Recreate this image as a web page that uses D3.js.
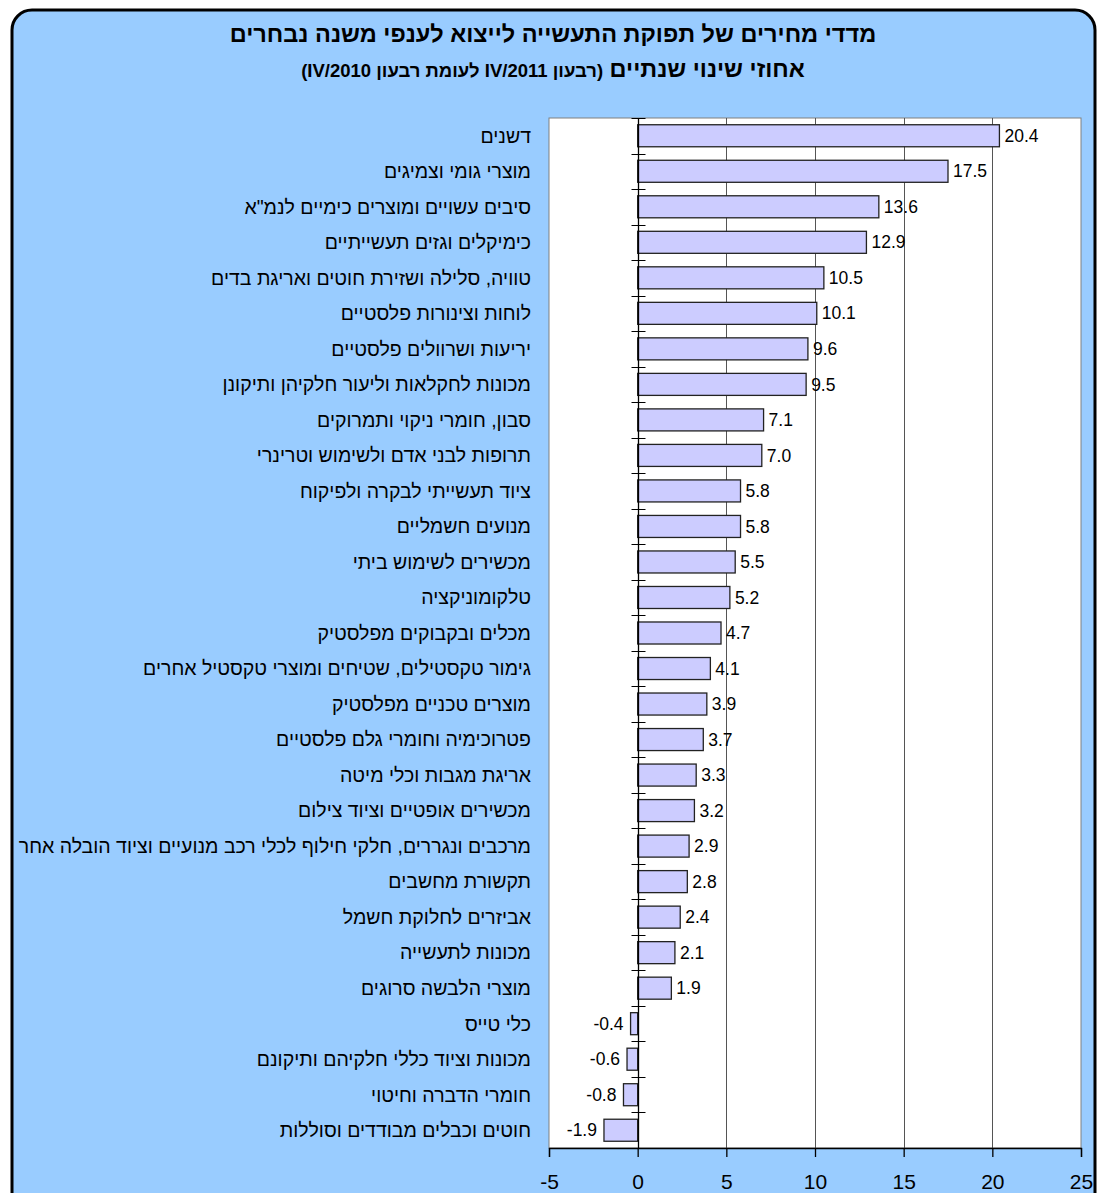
<!DOCTYPE html>
<html>
<head>
<meta charset="utf-8">
<script src="https://cdn.jsdelivr.net/npm/d3@7"></script>
<style>
  body { margin: 0; background: #fff; }
  text { font-family: "Liberation Sans", Arial, sans-serif; }
</style>
</head>
<body>
<div id="chart"></div>
<script>
const width = 1107
const height = 1193

// data
const categories = [
  'דשנים',
  'מוצרי גומי וצמיגים',
  'סיבים עשויים ומוצרים כימיים לנמ"א',
  'כימיקלים וגזים תעשייתיים',
  'טוויה, סלילה ושזירת חוטים ואריגת בדים',
  'לוחות וצינורות פלסטיים',
  'יריעות ושרוולים פלסטיים',
  'מכונות לחקלאות וליעור חלקיהן ותיקונן',
  'סבון, חומרי ניקוי ותמרוקים',
  'תרופות לבני אדם ולשימוש וטרינרי',
  'ציוד תעשייתי לבקרה ולפיקוח',
  'מנועים חשמליים',
  'מכשירים לשימוש ביתי',
  'טלקומוניקציה',
  'מכלים ובקבוקים מפלסטיק',
  'גימור טקסטילים, שטיחים ומוצרי טקסטיל אחרים',
  'מוצרים טכניים מפלסטיק',
  'פטרוכימיה וחומרי גלם פלסטיים',
  'אריגת מגבות וכלי מיטה',
  'מכשירים אופטיים וציוד צילום',
  'מרכבים ונגררים, חלקי חילוף לכלי רכב מנועיים וציוד הובלה אחר',
  'תקשורת מחשבים',
  'אביזרים לחלוקת חשמל',
  'מכונות לתעשייה',
  'מוצרי הלבשה סרוגים',
  'כלי טייס',
  'מכונות וציוד כללי חלקיהם ותיקונם',
  'חומרי הדברה וחיטוי',
  'חוטים וכבלים מבודדים וסוללות'
]
const values = [20.4, 17.5, 13.6, 12.9, 10.5, 10.1, 9.6, 9.5, 7.1, 7.0, 5.8, 5.8, 5.5, 5.2, 4.7,
  4.1, 3.9, 3.7, 3.3, 3.2, 2.9, 2.8, 2.4, 2.1, 1.9, -0.4, -0.6, -0.8, -1.9]
const xTicks = [-5, 0, 5, 10, 15, 20, 25]
const gridTicks = [5, 10, 15, 20]
const title = 'מדדי מחירים של תפוקת התעשייה לייצוא לענפי משנה נבחרים'
const subtitleMain = 'אחוזי שינוי שנתיים'
const subtitleNote = '(רבעון IV/2011 לעומת רבעון IV/2010)'

const data = categories.map((c, i) => ({ name: c, value: values[i] }))

const plot = { left: 549, right: 1081, top: 118, bottom: 1148 }

const svg = d3.select('#chart').append('svg')
  .attr('width', width)
  .attr('height', height)

svg.append('clipPath').attr('id', 'panelClip')
  .append('rect')
  .attr('x', 13).attr('y', 11)
  .attr('width', 1081).attr('height', 1200)
  .attr('rx', 20)

// panel background
svg.append('rect')
  .attr('x', 12).attr('y', 10)
  .attr('width', 1083).attr('height', 1205)
  .attr('rx', 20)
  .attr('fill', '#99ccff')
  .attr('stroke', '#000')
  .attr('stroke-width', 3)

// title
svg.append('text')
  .attr('x', 553).attr('y', 42)
  .attr('text-anchor', 'middle')
  .attr('direction', 'rtl')
  .attr('font-size', 23.5)
  .attr('font-weight', 'bold')
  .text(title)

const sub = svg.append('text')
  .attr('x', 553).attr('y', 77)
  .attr('text-anchor', 'middle')
  .attr('direction', 'rtl')
  .attr('font-weight', 'bold')
sub.append('tspan').attr('font-size', 23.5).text(subtitleMain + ' ')
sub.append('tspan').attr('font-size', 18.5).text(subtitleNote)

// scales
const xScale = d3.scaleLinear().domain([-5, 25]).range([plot.left, plot.right])
const yScale = d3.scaleBand().domain(categories).range([plot.top, plot.bottom])
  .paddingInner(0.38).paddingOuter(0.19)

// plot area
svg.append('rect')
  .attr('x', plot.left).attr('y', plot.top)
  .attr('width', plot.right - plot.left).attr('height', plot.bottom - plot.top)
  .attr('fill', '#fff')
  .attr('stroke', '#808080')
  .attr('stroke-width', 1)

// gridlines
svg.append('g').selectAll('line')
  .data(gridTicks)
  .join('line')
  .attr('x1', d => Math.round(xScale(d)) + 0.5)
  .attr('x2', d => Math.round(xScale(d)) + 0.5)
  .attr('y1', plot.top)
  .attr('y2', plot.bottom)
  .attr('stroke', '#555')
  .attr('stroke-width', 1)

// bars
svg.append('g').selectAll('rect')
  .data(data)
  .join('rect')
  .attr('x', d => xScale(Math.min(0, d.value)))
  .attr('y', d => yScale(d.name))
  .attr('width', d => Math.abs(xScale(d.value) - xScale(0)))
  .attr('height', yScale.bandwidth())
  .attr('fill', '#ccccff')
  .attr('stroke', '#222')
  .attr('stroke-width', 1.3)

// value labels
svg.append('g').selectAll('text')
  .data(data)
  .join('text')
  .attr('x', d => d.value >= 0 ? xScale(d.value) + 5 : xScale(d.value) - 7)
  .attr('y', d => yScale(d.name) + yScale.bandwidth() / 2)
  .attr('dy', '0.35em')
  .attr('text-anchor', d => d.value >= 0 ? 'start' : 'end')
  .attr('font-size', 17.5)
  .attr('fill', '#000')
  .text(d => d.value.toFixed(1))

// vertical axis at zero with cross ticks at band boundaries
const x0 = Math.round(xScale(0)) + 0.5
svg.append('line')
  .attr('x1', x0).attr('x2', x0)
  .attr('y1', plot.top).attr('y2', plot.bottom)
  .attr('stroke', '#000').attr('stroke-width', 1.3)

const boundaries = d3.range(categories.length + 1).map(i => plot.top + i * yScale.step())
svg.append('g').selectAll('line')
  .data(boundaries)
  .join('line')
  .attr('x1', x0 - 7).attr('x2', x0 + 7)
  .attr('y1', d => Math.round(d) + 0.5)
  .attr('y2', d => Math.round(d) + 0.5)
  .attr('stroke', '#000').attr('stroke-width', 1)

// category labels
svg.append('g').attr('clip-path', 'url(#panelClip)')
  .selectAll('text')
  .data(data)
  .join('text')
  .attr('x', 531)
  .attr('y', d => yScale(d.name) + yScale.bandwidth() / 2)
  .attr('dy', '0.35em')
  .attr('text-anchor', 'start')
  .attr('direction', 'rtl')
  .attr('font-size', 19.5)
  .text(d => d.name)

// bottom axis
const xAxis = svg.append('g')
  .attr('transform', `translate(0,${plot.bottom})`)
  .call(d3.axisBottom(xScale).tickValues(xTicks).tickSize(9).tickPadding(17).tickFormat(d3.format('d')))
xAxis.select('.domain').attr('stroke', '#000').attr('stroke-width', 1.3)
xAxis.selectAll('.tick line').attr('stroke', '#000').attr('stroke-width', 1.3)
xAxis.selectAll('.tick text')
  .attr('font-size', 21)
  .attr('font-family', '"Liberation Sans", Arial, sans-serif')
  .attr('fill', '#000')
  .text(d => d < 0 ? '-' + Math.abs(d) : d)
</script>
</body>
</html>
